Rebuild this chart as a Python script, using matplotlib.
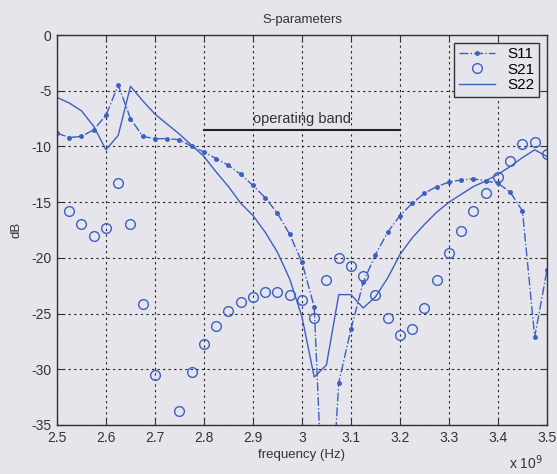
import numpy as np
import matplotlib
matplotlib.use("Agg")
import matplotlib.pyplot as plt
from matplotlib.ticker import FuncFormatter

plt.rcParams['font.family'] = ['Liberation Sans', 'DejaVu Sans']

# frequency grid in GHz (plotted in Hz)
freq_ghz = [2.5 + 0.025 * i for i in range(41)]

s11 = [-8.8, -9.2, -9.1, -8.5, -7.2, -4.5, -7.5, -9.1, -9.3, -9.3,
       -9.4, -10.0, -10.5, -11.1, -11.7, -12.5, -13.5, -14.6, -16.0, -17.9,
       -20.4, -24.4, -50.0, -31.2, -26.4, -22.2, -19.7, -17.7, -16.2, -15.1,
       -14.2, -13.6, -13.2, -13.0, -12.9, -13.1, -13.3, -14.1, -15.8, -27.1,
       -21.1]

s21 = [np.nan, -15.8, -17.0, -18.0, -17.3, -13.3, -17.0, -24.1, -30.5, -36.0,
       -33.7, -30.2, -27.7, -26.1, -24.8, -24.0, -23.5, -23.1, -23.1, -23.3,
       -23.8, -25.4, -22.0, -20.0, -20.7, -21.6, -23.3, -25.4, -26.9, -26.4,
       -24.5, -22.0, -19.6, -17.6, -15.8, -14.2, -12.7, -11.3, -9.8, -9.6,
       -10.7]

s22 = [-5.6, -6.1, -6.8, -8.2, -10.3, -9.0, -4.6, -5.9, -7.1, -8.0,
       -8.9, -9.9, -10.9, -12.3, -13.6, -15.1, -16.2, -17.7, -19.5, -21.9,
       -25.3, -30.7, -29.6, -23.3, -23.3, -24.5, -23.5, -21.8, -19.7, -18.2,
       -17.0, -15.9, -15.0, -14.3, -13.6, -13.1, -12.5, -11.8, -11.0, -10.3,
       -10.9]

band_ghz = [2.8, 3.2]
band_db = -8.5
band_label = "operating band"

xticks_ghz = [2.5, 2.6, 2.7, 2.8, 2.9, 3.0, 3.1, 3.2, 3.3, 3.4, 3.5]
yticks = [0, -5, -10, -15, -20, -25, -30, -35]

f_hz = np.array(freq_ghz) * 1e9

bg = '#e5e5eb'
blue = '#3d5fc4'

fig = plt.figure(figsize=(5.57, 4.74), dpi=100, facecolor=bg)
ax = fig.add_axes([0.1023, 0.1034, 0.8797, 0.8227], facecolor=bg)

ax.plot(f_hz, s11, linestyle='-.', marker='.', markersize=5, color=blue,
        linewidth=1.0, label='S11')
ax.plot(f_hz, s21, linestyle='none', marker='o', markersize=7,
        markerfacecolor='none', markeredgecolor=blue, markeredgewidth=1.0,
        label='S21')
ax.plot(f_hz, s22, linestyle='-', color=blue, linewidth=1.0, label='S22')

ax.plot(np.array(band_ghz) * 1e9, [band_db, band_db], color='#222222',
        linewidth=1.5)
ax.text(np.mean(band_ghz) * 1e9, band_db + 0.35, band_label, ha='center',
        va='bottom', fontsize=10.5, color='#333333')

ax.set_xlim(2.5e9, 3.5e9)
ax.set_ylim(-35, 0)
ax.set_xticks(np.array(xticks_ghz) * 1e9)
ax.set_yticks(yticks)
ax.xaxis.set_major_formatter(FuncFormatter(lambda v, p: f"{v/1e9:g}"))
ax.yaxis.set_major_formatter(FuncFormatter(lambda v, p: f"{v:g}"))

ax.grid(True, linestyle=(0, (2, 3)), color='#222222', linewidth=0.8)
ax.tick_params(direction='in', top=True, right=True, length=5,
               labelsize=10, colors='#333333', pad=4)
for s in ax.spines.values():
    s.set_color('#333333')
    s.set_linewidth(1.0)

ax.set_title('S-parameters', fontsize=9.5, color='#333333', pad=9)
ax.set_xlabel('frequency (Hz)', fontsize=9.5, color='#333333', labelpad=3)
ax.set_ylabel('dB', fontsize=9.5, color='#333333', labelpad=6)

fig.text(0.945, 0.004, r'x 10$^9$', ha='center', va='bottom', fontsize=10,
         color='#333333')

leg = ax.legend(loc='upper right', fontsize=11, frameon=True, fancybox=False,
                edgecolor='#333333', facecolor=bg, framealpha=1,
                borderpad=0.3, labelspacing=0.1, handlelength=2.4,
                borderaxespad=0.5, numpoints=1)
leg.get_frame().set_linewidth(1.0)

fig.savefig('out.png', dpi=100, facecolor=bg)
